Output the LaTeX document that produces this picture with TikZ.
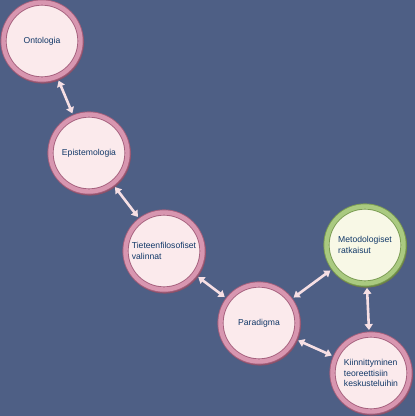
\documentclass[tikz,border=0pt]{standalone}
\usepackage{fontspec}
\setmainfont{Liberation Sans}
\usetikzlibrary{arrows.meta,shadows}
\definecolor{tausta}{HTML}{4E5F85}
\definecolor{sisus}{HTML}{FBEAEC}
\definecolor{rengas}{HTML}{D896B0}
\definecolor{rengastumma}{HTML}{A45F7C}
\definecolor{vihrea}{HTML}{AACA80}
\definecolor{vihreatumma}{HTML}{7A9B52}
\definecolor{vihreasisus}{HTML}{F8F8E6}
\definecolor{teksti}{HTML}{113868}
\definecolor{nuoli}{HTML}{F6DFE4}

\begin{document}
\begin{tikzpicture}[x=1pt,y=-1pt,
  pallo/.style={circle,minimum size=77pt,inner sep=0pt,fill=sisus,
    draw=rengastumma,double=rengas,line width=0.9pt,double distance=4.4pt,
    general shadow={fill=rengastumma!85!black,shadow xshift=0.8pt,shadow yshift=-1.3pt,shadow scale=1.07},
    text=teksti,align=left,font=\fontsize{8.6}{10.5}\selectfont},
  vpallo/.style={pallo,fill=vihreasisus,draw=vihreatumma,double=vihrea,
    general shadow={fill=vihreatumma!85!black,shadow xshift=0.8pt,shadow yshift=-1.3pt,shadow scale=1.07}},
  yhteys/.style={{Triangle[width=8pt,length=6pt]}-{Triangle[width=8pt,length=6pt]},
    draw=nuoli,line width=2.6pt,shorten <=4pt,shorten >=4pt}]
\useasboundingbox (0,0) rectangle (415,416);
\fill[tausta] (0,0) rectangle (415,416);

%% circles
\node[pallo] (ont) at (42,41) {Ontologia};
\node[pallo] (epi) at (89,153) {Epistemologia};
\node[pallo] (tie) at (164,251) {Tieteenfilosofiset\\valinnat};
\node[pallo] (par) at (259,323) {Paradigma};
\node[vpallo] (met) at (365,245) {Metodologiset\\ratkaisut};
\node[pallo] (kii) at (371,373) {Kiinnittyminen\\teoreettisiin\\keskusteluihin};

%% edges
\draw[yhteys] (ont) to (epi);
\draw[yhteys] (epi) to (tie);
\draw[yhteys] (tie) to (par);
\draw[yhteys] (par) to (met);
\draw[yhteys] (met) to (kii);
\draw[yhteys] (par) to (kii);

\end{tikzpicture}
\end{document}
